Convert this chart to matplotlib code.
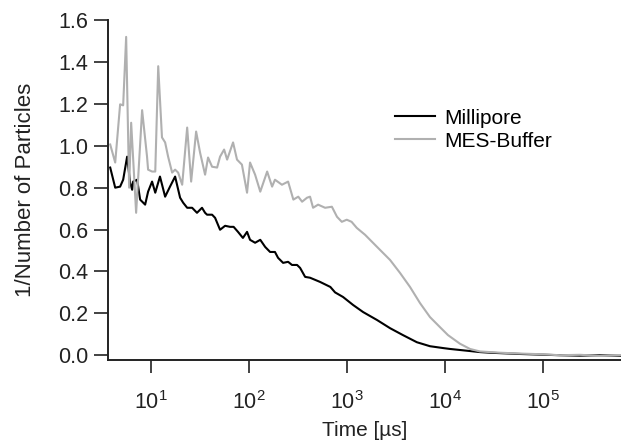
import matplotlib
matplotlib.use("Agg")
import matplotlib.pyplot as plt
from matplotlib.ticker import LogLocator, NullLocator

plt.rcParams["font.family"] = ["Liberation Sans", "DejaVu Sans"]
plt.rcParams["mathtext.fontset"] = "custom"
plt.rcParams["mathtext.rm"] = "Liberation Sans"
plt.rcParams["mathtext.it"] = "Liberation Sans"

# Millipore (black)
t_milli = [3.85, 4.33, 4.86, 5.22, 5.73, 6.15, 6.45, 6.6, 7.25, 7.78, 8.75, 9.38,
           10.3, 11.1, 12.4, 14.0, 15.7, 17.7, 19.9, 21.4, 23.5, 26.4, 29.6, 33.3,
           35.8, 37.5, 42.2, 45.3, 50.9, 57.3, 64.4, 70.0, 77.6, 87.1, 96.0, 103,
           116, 131, 147, 165, 185, 199, 224, 252, 276, 311, 334, 376, 422, 534,
           680, 760, 917, 1160, 1470, 2040, 2770, 3750, 5200, 7075, 9700,
           11300, 14300, 18100, 22900, 29000, 36600, 58600, 94000, 150000,
           240000, 380000, 630000]
y_milli = [0.896, 0.80, 0.805, 0.838, 0.948, 0.824, 0.79, 0.829, 0.838, 0.743, 0.719, 0.781,
           0.829, 0.776, 0.853, 0.757, 0.805, 0.853, 0.752, 0.728, 0.704, 0.704, 0.68, 0.704,
           0.68, 0.671, 0.671, 0.656, 0.599, 0.618, 0.613, 0.613, 0.589, 0.56, 0.589, 0.551,
           0.537, 0.551, 0.517, 0.493, 0.493, 0.465, 0.441, 0.446, 0.431, 0.431, 0.417, 0.374, 0.37, 0.35,
           0.326, 0.30, 0.278, 0.24, 0.206, 0.168, 0.129, 0.096, 0.062, 0.043, 0.034,
           0.03, 0.025, 0.02, 0.015, 0.012, 0.01, 0.006, 0.003, 0.0,
           -0.002, 0.0, -0.003]

# MES-Buffer (grey)
t_mes = [3.85, 4.33, 4.86, 5.22, 5.60, 6.01, 6.30, 7.08, 8.15, 9.14, 9.38, 10.3,
         11.1, 11.9, 13.0, 14.0, 15.0, 16.5, 17.7, 19.0, 20.9, 23.5, 25.8, 29.0,
         31.8, 35.8, 38.4, 42.2, 47.5, 50.9, 56.0, 60.1, 69.1, 75.8, 85.1, 96.0,
         103, 116, 131, 154, 173, 185, 218, 252, 285, 320, 350, 393, 422, 453,
         510, 601, 705, 795, 890, 1000, 1120, 1265, 1538, 2040, 2766, 3497,
         4423, 5594, 7075, 8948, 10800, 14300, 18100, 22900, 36600, 58600,
         94000, 150000, 240000, 380000, 630000]
y_mes = [1.006, 0.92, 1.198, 1.193, 1.52, 0.80, 1.11, 0.68, 1.17, 0.95, 0.886, 0.877,
         0.877, 1.38, 1.04, 1.016, 0.949, 0.872, 0.886, 0.872, 0.814, 1.087, 0.829, 1.068,
         0.968, 0.862, 0.944, 0.90, 0.896, 0.948, 0.982, 0.934, 1.016, 0.934, 0.91, 0.776,
         0.92, 0.862, 0.781, 0.877, 0.805, 0.838, 0.814, 0.829, 0.743, 0.757, 0.733, 0.752, 0.757, 0.704,
         0.719, 0.704, 0.709, 0.661, 0.637, 0.647, 0.637, 0.608, 0.575, 0.517, 0.455, 0.393,
         0.326, 0.249, 0.182, 0.134, 0.096, 0.055, 0.03, 0.018, 0.012, 0.008,
         0.005, 0.0, 0.002, -0.003, 0.0]

fig = plt.figure(figsize=(6.21, 4.47), dpi=100)
ax = fig.add_axes([0.174, 0.195, 0.826, 0.76])

ax.plot(t_milli, y_milli, color="black", lw=1.5, label="Millipore")
ax.plot(t_mes, y_mes, color="#b0b0b0", lw=1.5, label="MES-Buffer")

ax.set_xscale("log")
ax.set_xlim(3.66, 6.3e5)
ax.set_ylim(-0.022, 1.6)
ax.xaxis.set_major_locator(LogLocator(base=10, numticks=10))
ax.xaxis.set_minor_locator(NullLocator())
ax.set_yticks([0.0, 0.2, 0.4, 0.6, 0.8, 1.0, 1.2, 1.4, 1.6])
ax.set_yticklabels(["0.0", "0.2", "0.4", "0.6", "0.8", "1.0", "1.2", "1.4", "1.6"])

for side in ["top", "right"]:
    ax.spines[side].set_visible(False)
for side in ["left", "bottom"]:
    ax.spines[side].set_linewidth(1.4)
    ax.spines[side].set_color("#222222")

ax.tick_params(axis="y", direction="out", length=10, width=1.2, pad=4,
               labelsize=15.5, colors="#222222")
ax.tick_params(axis="x", direction="out", length=9.5, width=1.2, pad=13,
               labelsize=15.5, colors="#222222")

ax.set_xlabel("Time [µs]", fontsize=15, color="#222222", labelpad=5)
ax.set_ylabel("1/Number of Particles", fontsize=16, color="#222222", labelpad=16)

ax.legend(loc="upper left", bbox_to_anchor=(0.636, 0.757),
          bbox_transform=fig.transFigure, frameon=False, fontsize=15,
          handlelength=1.9, handletextpad=0.45, labelspacing=0.2, borderpad=0,
          borderaxespad=0)

fig.savefig("out.png", dpi=100)
